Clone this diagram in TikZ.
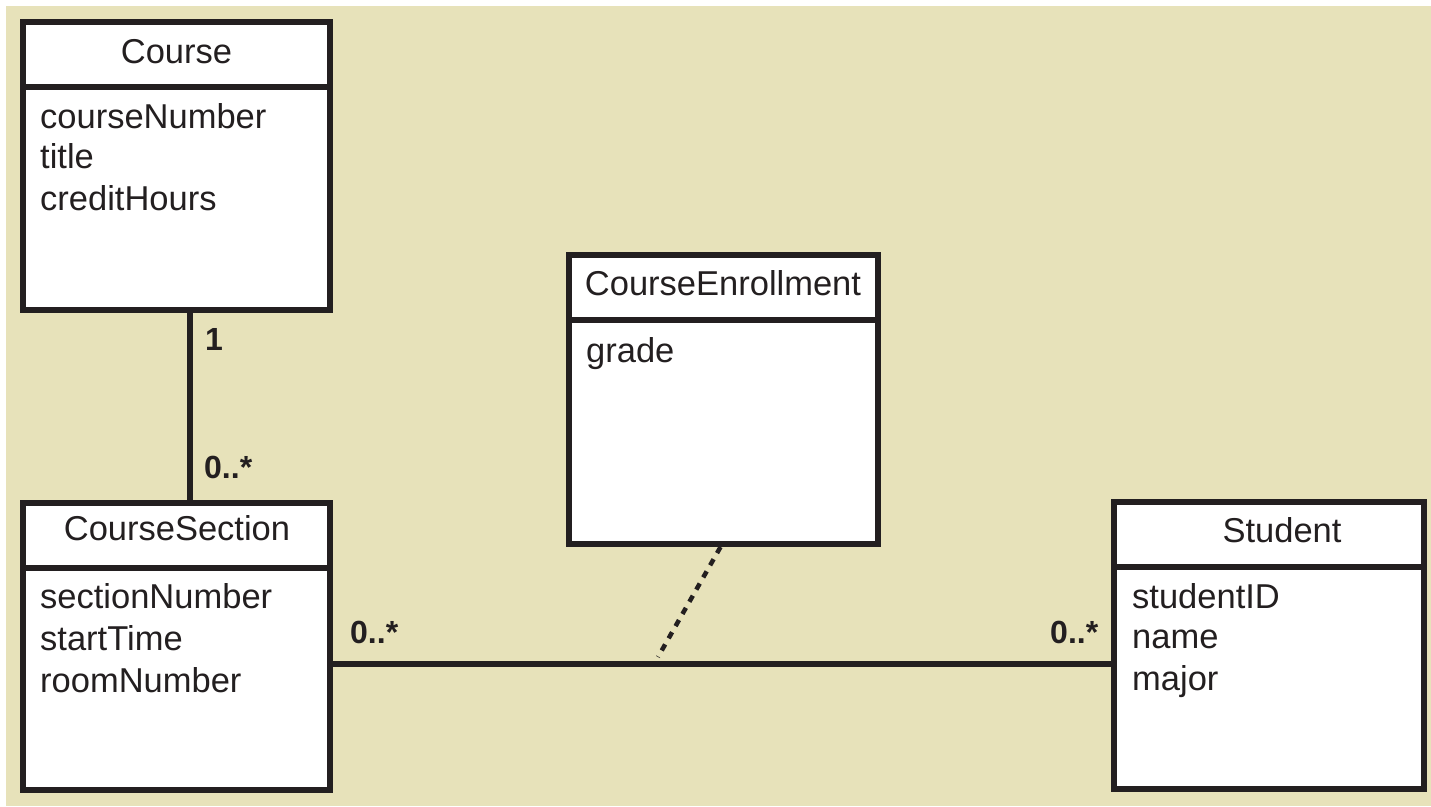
\documentclass[tikz,border=0pt]{standalone}
\usepackage{fontspec}
\setmainfont{Liberation Sans}
\usetikzlibrary{calc}
\definecolor{bgc}{RGB}{231,226,186}
\definecolor{ink}{RGB}{35,31,32}
\tikzset{
  classbox/.style={draw=ink, fill=white, line width=6pt, rectangle, inner sep=0pt, outer sep=0pt, anchor=north west},
  sepline/.style={draw=ink, line width=6pt},
  titletext/.style={font=\fontsize{34.5}{41}\selectfont, text=ink, inner sep=0pt, anchor=base},
  attrtext/.style={font=\fontsize{34.5}{41}\selectfont, text=ink, inner sep=0pt, anchor=base west},
  multtext/.style={font=\fontsize{32}{38}\selectfont\bfseries, text=ink, inner sep=0pt, anchor=base west},
  assoc/.style={draw=ink, line width=5.5pt},
  assocclass/.style={draw=ink, line width=4.5pt, dash pattern=on 7pt off 7pt}
}
\begin{document}
\begin{tikzpicture}[x=1pt,y=-1pt]
\useasboundingbox (0,0) rectangle (1431,806);
\fill[white] (0,0) rectangle (1431,806);
\fill[bgc] (6,6) rectangle (1431,806);

% Course
\node[classbox, minimum width=307pt, minimum height=288pt] (course) at (23,22) {};
\draw[sepline] (23,87) -- (330,87);
\node[titletext] (courseT) at (176.5,63) {Course};
\node[attrtext] (courseA1) at (40,128) {courseNumber};
\node[attrtext] (courseA2) at (40,168) {title};
\node[attrtext] (courseA3) at (40,210) {creditHours};

% CourseSection
\node[classbox, minimum width=307pt, minimum height=287pt] (section) at (23,503) {};
\draw[sepline] (23,568) -- (330,568);
\node[titletext] (sectionT) at (177,540) {CourseSection};
\node[attrtext] (sectionA1) at (40,608) {sectionNumber};
\node[attrtext] (sectionA2) at (40,650) {startTime};
\node[attrtext] (sectionA3) at (40,692) {roomNumber};

% CourseEnrollment
\node[classbox, minimum width=309pt, minimum height=289pt] (enroll) at (569,255) {};
\draw[sepline] (569,320) -- (878,320);
\node[titletext] (enrollT) at (723,295) {CourseEnrollment};
\node[attrtext] (enrollA1) at (586,362) {grade};

% Student
\node[classbox, minimum width=310pt, minimum height=287pt] (student) at (1114,502) {};
\draw[sepline] (1114,567) -- (1424,567);
\node[titletext] (studentT) at (1282,542) {Student};
\node[attrtext] (studentA1) at (1132,608) {studentID};
\node[attrtext] (studentA2) at (1132,648) {name};
\node[attrtext] (studentA3) at (1132,690) {major};

% Course -- CourseSection
\draw[assoc] ($(course.south west)+(167,0)$) -- ($(section.north west)+(167,0)$);
\node[multtext] (m1) at (205,350) {1};
\node[multtext] (m2) at (204,478) {0..*};

% CourseSection -- Student
\coordinate (mid) at (658,664);
\draw[assoc] (section.east |- mid) -- (student.west |- mid);
\node[multtext] (m3) at (350,643) {0..*};
\node[multtext] (m4) at (1050,643) {0..*};

% association class link
\draw[assocclass] ($(enroll.south)+(-3,3)$) -- ($(mid)+(0,-7)$);
\end{tikzpicture}
\end{document}
